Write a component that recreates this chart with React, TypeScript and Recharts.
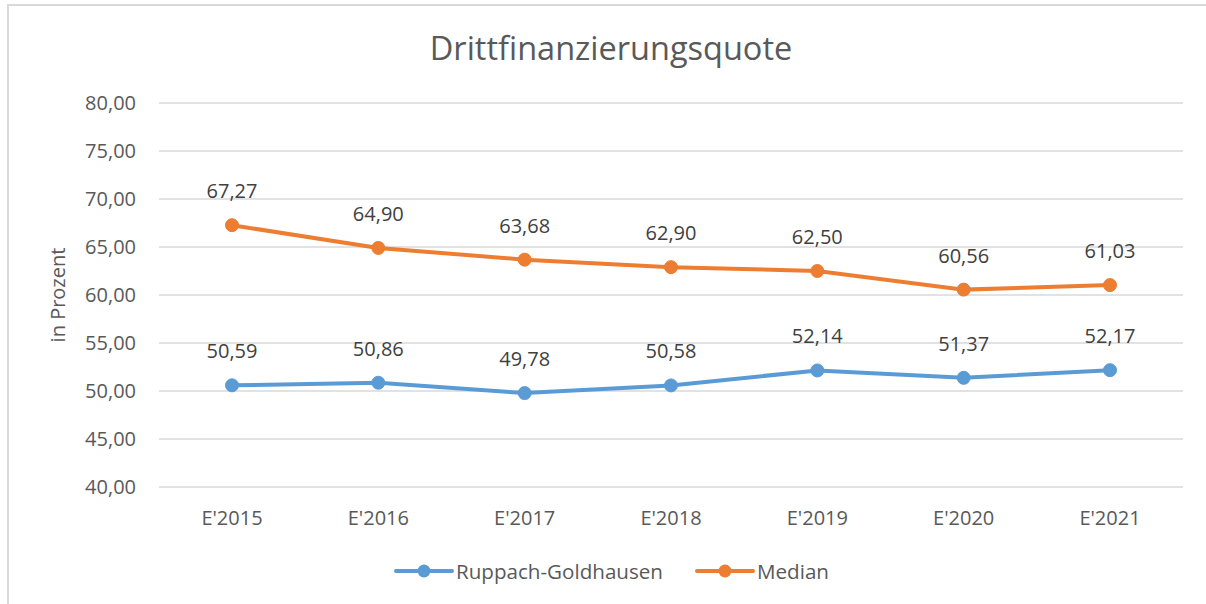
import React from 'react';
import { LineChart, Line, XAxis, YAxis, CartesianGrid, Legend, LabelList, Label } from 'recharts';

const categories = ["E'2015", "E'2016", "E'2017", "E'2018", "E'2019", "E'2020", "E'2021"];
const ruppachValues = [50.59, 50.86, 49.78, 50.58, 52.14, 51.37, 52.17];
const medianValues = [67.27, 64.9, 63.68, 62.9, 62.5, 60.56, 61.03];
const yTicks = [40, 45, 50, 55, 60, 65, 70, 75, 80];

const BLUE = '#5B9BD5';
const ORANGE = '#ED7D31';
const FONT = '"Open Sans", sans-serif';

const data = categories.map((c, i) => ({
  name: c,
  ruppach: ruppachValues[i],
  median: medianValues[i],
}));

const fmt = (v: any) => Number(v).toFixed(2).replace('.', ',');

const legendItems = [
  { label: 'Ruppach-Goldhausen', color: BLUE },
  { label: 'Median', color: ORANGE },
];

// legend drawn by hand to get the Excel-like line + dot marker
const renderLegend = () => (
  <div style={{ height: 40, paddingLeft: 40, display: 'flex', justifyContent: 'center', alignItems: 'center', gap: 32, fontFamily: FONT, fontSize: 20.6, color: '#595959' }}>
    {legendItems.map((it) => (
      <div key={it.label} style={{ display: 'flex', alignItems: 'center' }}>
        <svg width={60} height={16} style={{ marginRight: 2 }}>
          <line x1={2} y1={8} x2={58} y2={8} stroke={it.color} strokeWidth={4} strokeLinecap="round" />
          <circle cx={30} cy={8} r={6.5} fill={it.color} />
        </svg>
        <span>{it.label}</span>
      </div>
    ))}
  </div>
);

export default function App() {
  return (
    <div style={{ position: 'absolute', left: 0, top: 0, width: 1206, height: 604, overflow: 'hidden', background: '#fff' }}>
      <div style={{ position: 'absolute', left: 7, top: 4, width: 1210, height: 700, border: '2px solid #d9d9d9' }} />
      <div style={{ position: 'absolute', left: 0, top: 25, width: 1222, textAlign: 'center', fontFamily: FONT, fontSize: 32.5, color: '#595959' }}>
        Drittfinanzierungsquote
      </div>
      <div style={{ position: 'absolute', left: 0, top: 0 }}>
        <LineChart width={1206} height={604} data={data} margin={{ top: 103, right: 23, left: 0, bottom: 13 }}>
          <CartesianGrid vertical={false} stroke="#d9d9d9" strokeWidth={1.5} />
          <XAxis
            dataKey="name"
            height={64}
            padding={{ left: 73, right: 73 }}
            tickLine={false}
            axisLine={false}
            tickSize={0}
            tickMargin={24}
            tick={{ fill: '#595959', fontSize: 20, fontFamily: FONT }}
          />
          <YAxis
            width={159}
            domain={[40, 80]}
            ticks={yTicks}
            tickFormatter={fmt}
            tickLine={false}
            axisLine={false}
            tickSize={0}
            tickMargin={23}
            tick={{ fill: '#595959', fontSize: 20, fontFamily: FONT }}
          >
            <Label value="in Prozent" angle={-90} position="insideLeft" dx={53} style={{ textAnchor: 'middle', fill: '#595959', fontSize: 20, fontFamily: FONT }} />
          </YAxis>
          <Legend verticalAlign="bottom" height={40} content={renderLegend} />
          <Line dataKey="ruppach" name="Ruppach-Goldhausen" stroke={BLUE} strokeWidth={4} dot={{ r: 6.5, fill: BLUE, stroke: BLUE, strokeWidth: 1 }} isAnimationActive={false}>
            <LabelList dataKey="ruppach" position="top" offset={27} formatter={fmt} fill="#404040" fontSize={20} fontFamily={FONT} />
          </Line>
          <Line dataKey="median" name="Median" stroke={ORANGE} strokeWidth={4} dot={{ r: 6.5, fill: ORANGE, stroke: ORANGE, strokeWidth: 1 }} isAnimationActive={false}>
            <LabelList dataKey="median" position="top" offset={27} formatter={fmt} fill="#404040" fontSize={20} fontFamily={FONT} />
          </Line>
        </LineChart>
      </div>
    </div>
  );
}
